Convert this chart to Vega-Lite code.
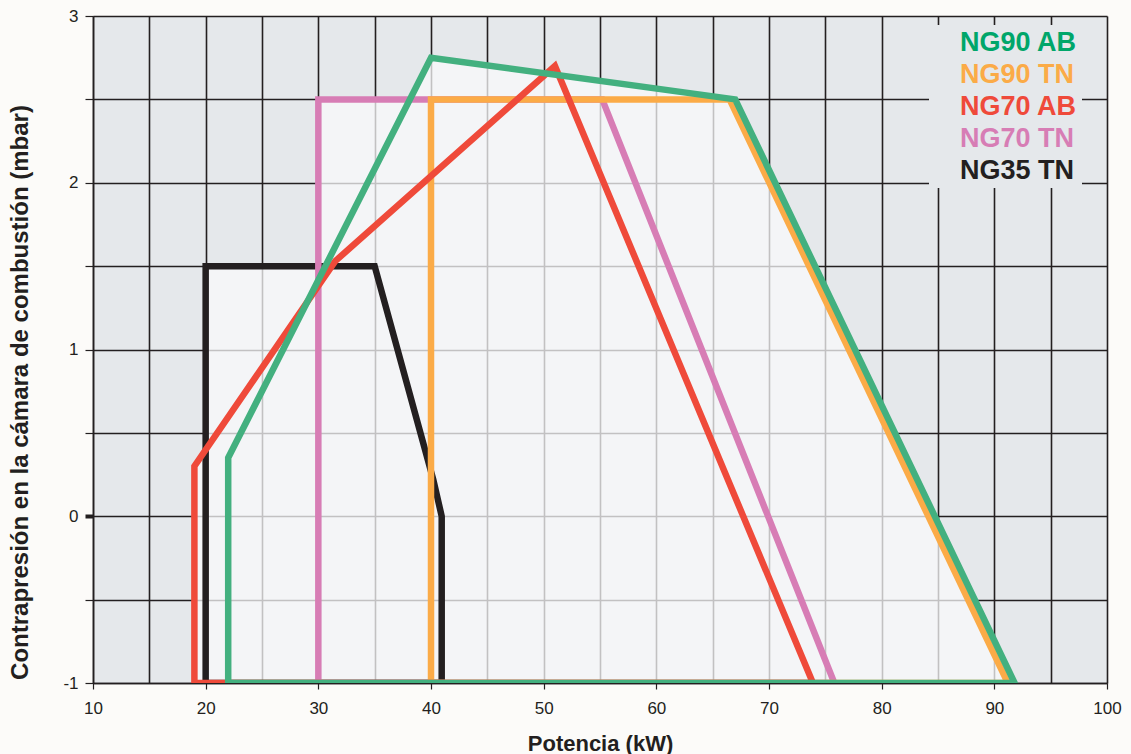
{
  "$schema": "https://vega.github.io/schema/vega-lite/v6.json",
  "width": 1014,
  "height": 667,
  "autosize": {"type": "none"},
  "padding": {"left": 93, "top": 16, "right": 24, "bottom": 71},
  "background": "#fcfbf9",
  "config": {
    "view": {"fill": "#e5e8eb", "stroke": null},
    "font": "Liberation Sans"
  },
  "datasets": {
    "lines": [
      {"s": "NG90 AB", "o": 1, "x": 22, "y": -1},
      {"s": "NG90 AB", "o": 2, "x": 22, "y": 0.35},
      {"s": "NG90 AB", "o": 3, "x": 40, "y": 2.75},
      {"s": "NG90 AB", "o": 4, "x": 67, "y": 2.5},
      {"s": "NG90 AB", "o": 5, "x": 91.8, "y": -1},
      {"s": "NG90 AB", "o": 6, "x": 22, "y": -1},
      {"s": "NG90 TN", "o": 1, "x": 40, "y": -1},
      {"s": "NG90 TN", "o": 2, "x": 40, "y": 2.5},
      {"s": "NG90 TN", "o": 3, "x": 66.5, "y": 2.5},
      {"s": "NG90 TN", "o": 4, "x": 91.2, "y": -1},
      {"s": "NG90 TN", "o": 5, "x": 40, "y": -1},
      {"s": "NG70 AB", "o": 1, "x": 19, "y": -1},
      {"s": "NG70 AB", "o": 2, "x": 19, "y": 0.3},
      {"s": "NG70 AB", "o": 3, "x": 31.5, "y": 1.53},
      {"s": "NG70 AB", "o": 4, "x": 51, "y": 2.7},
      {"s": "NG70 AB", "o": 5, "x": 73.9, "y": -1},
      {"s": "NG70 AB", "o": 6, "x": 19, "y": -1},
      {"s": "NG70 TN", "o": 1, "x": 30, "y": -1},
      {"s": "NG70 TN", "o": 2, "x": 30, "y": 2.5},
      {"s": "NG70 TN", "o": 3, "x": 55.2, "y": 2.5},
      {"s": "NG70 TN", "o": 4, "x": 75.8, "y": -1},
      {"s": "NG70 TN", "o": 5, "x": 30, "y": -1},
      {"s": "NG35 TN", "o": 1, "x": 20, "y": -1},
      {"s": "NG35 TN", "o": 2, "x": 20, "y": 1.5},
      {"s": "NG35 TN", "o": 3, "x": 35, "y": 1.5},
      {"s": "NG35 TN", "o": 4, "x": 40.2, "y": 0.22},
      {"s": "NG35 TN", "o": 5, "x": 40.95, "y": 0},
      {"s": "NG35 TN", "o": 6, "x": 40.95, "y": -1},
      {"s": "NG35 TN", "o": 7, "x": 20, "y": -1}
    ],
    "envelope": [
      {"x": 19, "y": 0.3},
      {"x": 20, "y": 0.4},
      {"x": 20.01, "y": 1.5},
      {"x": 30, "y": 1.5},
      {"x": 30.01, "y": 2.5},
      {"x": 38.1, "y": 2.5},
      {"x": 40, "y": 2.75},
      {"x": 67, "y": 2.5},
      {"x": 91.8, "y": -1}
    ]
  },
  "encoding": {
    "x": {
      "field": "x",
      "type": "quantitative",
      "title": "Potencia (kW)",
      "scale": {"domain": [10, 100], "nice": false, "zero": false},
      "axis": {
        "values": [10, 15, 20, 25, 30, 35, 40, 45, 50, 55, 60, 65, 70, 75, 80, 85, 90, 95, 100],
        "labelExpr": "datum.value % 10 == 0 ? '' + datum.value : ''",
        "labelFlush": false,
        "labelOverlap": false,
        "labelFontSize": 17,
        "labelColor": "#231f20",
        "labelPadding": 11,
        "tickSize": 6,
        "tickWidth": 1.2,
        "tickColor": "#231f20",
        "tickOpacity": {"condition": {"test": "datum.value % 10 != 0", "value": 0}, "value": 1},
        "grid": true,
        "gridColor": "#231f20",
        "gridWidth": 1.6,
        "gridOpacity": 1,
        "domainColor": "#231f20",
        "domainWidth": 1.5,
        "titleFontSize": 22,
        "titleFontWeight": "bold",
        "titleColor": "#231f20",
        "titleY": 60,
        "titleBaseline": "middle"
      }
    },
    "y": {
      "field": "y",
      "type": "quantitative",
      "title": "Contrapresión en la cámara de combustión (mbar)",
      "scale": {"domain": [-1, 3], "nice": false, "zero": false},
      "axis": {
        "values": [-1, -0.5, 0, 0.5, 1, 1.5, 2, 2.5, 3],
        "labelExpr": "datum.value % 1 == 0 ? '' + datum.value : ''",
        "labelOverlap": false,
        "labelFlush": false,
        "labelFontSize": 17,
        "labelColor": "#231f20",
        "labelPadding": 7,
        "tickSize": 8,
        "tickColor": "#231f20",
        "tickWidth": {"condition": {"test": "datum.value == 0", "value": 4}, "value": 1.2},
        "grid": true,
        "gridColor": "#231f20",
        "gridWidth": 1.6,
        "gridOpacity": 1,
        "domainColor": "#231f20",
        "domainWidth": 1.5,
        "titleFontSize": 24,
        "titleFontWeight": "bold",
        "titleColor": "#231f20",
        "titleX": -73,
        "titleY": 376,
        "titleAngle": 270,
        "titleAlign": "center",
        "titleBaseline": "middle"
      }
    }
  },
  "layer": [
    {
      "data": {"values": [{}]},
      "mark": {"type": "rule", "color": "#231f20", "strokeWidth": 4},
      "encoding": {
        "x": {"datum": 10, "type": "quantitative"},
        "x2": {"datum": 100},
        "y": {"datum": 0, "type": "quantitative"}
      }
    },
    {
      "data": {"name": "envelope"},
      "mark": {"type": "area", "color": "#f9fafb", "opacity": 0.74, "interpolate": "linear"},
      "encoding": {
        "y2": {"datum": -1}
      }
    },
    {
      "data": {"name": "lines"},
      "transform": [{"filter": "datum.s == 'NG35 TN'"}],
      "mark": {"type": "line", "strokeWidth": 6.5, "strokeJoin": "miter", "strokeCap": "square", "clip": true},
      "encoding": {
        "color": {
          "field": "s", "type": "nominal",
          "scale": {"domain": ["NG90 AB", "NG90 TN", "NG70 AB", "NG70 TN", "NG35 TN"], "range": ["#43b07f", "#fbab47", "#ef4a3a", "#d77db5", "#231f20"]},
          "legend": {
            "title": null,
            "orient": "none",
            "legendX": 836,
            "legendY": 9,
            "symbolSize": 0,
            "symbolStrokeWidth": 0,
            "symbolOpacity": 0,
            "labelOffset": 0,
            "labelFont": "Liberation Sans",
            "labelFontWeight": "bold",
            "labelFontSize": 27,
            "rowPadding": 4,
            "padding": 4,
            "fillColor": "#e5e8eb",
            "encode": {
              "labels": {
                "update": {
                  "fill": {"signal": "datum.value === 'NG90 AB' ? '#00a66a' : datum.value === 'NG90 TN' ? '#fbab47' : datum.value === 'NG70 AB' ? '#ef4a3a' : datum.value === 'NG70 TN' ? '#d77db5' : '#231f20'"}
                }
              }
            }
          }
        },
        "order": {"field": "o", "type": "quantitative"}
      }
    },
    {
      "data": {"name": "lines"},
      "transform": [{"filter": "datum.s == 'NG70 TN'"}],
      "mark": {"type": "line", "strokeWidth": 6.5, "strokeJoin": "miter", "strokeCap": "square", "clip": true},
      "encoding": {
        "color": {"field": "s", "type": "nominal"},
        "order": {"field": "o", "type": "quantitative"}
      }
    },
    {
      "data": {"name": "lines"},
      "transform": [{"filter": "datum.s == 'NG90 TN'"}],
      "mark": {"type": "line", "strokeWidth": 6.5, "strokeJoin": "miter", "strokeCap": "square", "clip": true},
      "encoding": {
        "color": {"field": "s", "type": "nominal"},
        "order": {"field": "o", "type": "quantitative"}
      }
    },
    {
      "data": {"name": "lines"},
      "transform": [{"filter": "datum.s == 'NG70 AB'"}],
      "mark": {"type": "line", "strokeWidth": 6.5, "strokeJoin": "miter", "strokeCap": "square", "clip": true},
      "encoding": {
        "color": {"field": "s", "type": "nominal"},
        "order": {"field": "o", "type": "quantitative"}
      }
    },
    {
      "data": {"name": "lines"},
      "transform": [{"filter": "datum.s == 'NG90 AB'"}],
      "mark": {"type": "line", "strokeWidth": 6.5, "strokeJoin": "miter", "strokeCap": "square", "clip": true},
      "encoding": {
        "color": {"field": "s", "type": "nominal"},
        "order": {"field": "o", "type": "quantitative"}
      }
    }
  ]
}
